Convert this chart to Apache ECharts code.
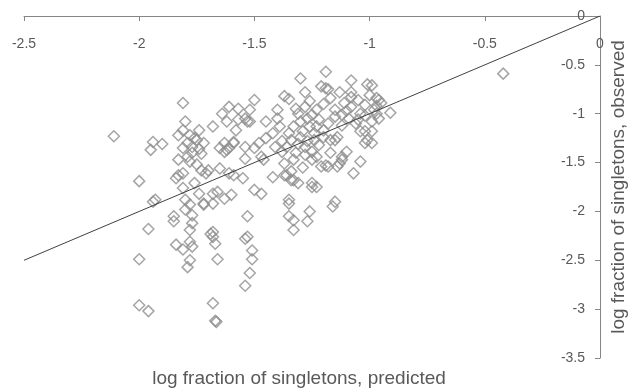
<!DOCTYPE html>
<html>
<head>
<meta charset="utf-8">
<script src="https://cdn.jsdelivr.net/npm/echarts@6/dist/echarts.min.js"></script>
<style>
  html, body { margin: 0; padding: 0; background: #fff; }
  #chart { width: 635px; height: 390px; }
</style>
</head>
<body>
<div id="chart"></div>
<script>
// predicted (x) and observed (y) log fraction of singletons
var predicted = [
  -1.81, -2.11, -1.94, -1.90, -1.95, -2.00, -1.93, -1.80, -1.83, -1.83,
  -1.81, -1.74, -1.75, -1.77, -1.73, -1.81, -1.78, -1.73, -1.84, -1.83,
  -1.81, -1.76, -1.81, -1.74, -1.80, -1.78, -1.72, -1.68, -1.63, -1.85,
  -1.77, -1.64, -1.61, -1.57, -1.52, -1.50, -1.68, -1.62, -1.57, -1.52,
  -1.58, -1.63, -1.65, -1.62, -1.63, -1.59, -1.54, -1.54, -1.65, -1.61,
  -1.55, -1.47, -1.45, -1.40, -1.37, -1.30, -1.19, -1.78, -1.76, -1.79,
  -1.74, -1.77, -1.72, -1.79, -1.75, -1.70, -1.60, -1.66, -1.59, -1.53,
  -1.54, -1.45, -1.59, -1.61, -1.50, -1.47, -1.42, -1.37, -1.34, -1.25,
  -1.23, -1.35, -1.15, -1.07, -1.04, -1.12, -1.14, -1.18, -1.01, -1.02,
  -1.15, -1.71, -1.94, -1.96, -1.85, -2.00, -2.00, -1.96, -1.80, -1.77,
  -1.78, -1.84, -1.81, -1.78, -1.78, -1.79, -1.77, -1.72, -1.68, -1.53,
  -1.35, -1.35, -1.33, -1.33, -1.26, -1.27, -1.16, -1.68, -1.68, -1.67,
  -1.66, -1.54, -1.53, -1.51, -1.51, -1.52, -1.54, -1.68, -1.67, -1.665,
  -1.69, -0.42, -0.99, -0.96, -0.97, -0.95, -0.91, -0.96, -0.99, -0.99,
  -0.98, -1.08, -1.01, -1.21, -1.19, -1.18, -1.13, -1.28, -1.35, -1.08,
  -1.00, -0.97, -1.05, -0.97, -1.17, -1.11, -1.08, -1.02, -1.04, -1.15,
  -1.12, -1.09, -1.05, -1.39, -1.48, -1.50, -1.46, -1.41, -1.38, -1.33,
  -1.31, -1.28, -1.25, -1.23, -1.30, -1.26, -1.23, -1.20, -1.14, -1.17,
  -1.20, -1.24, -1.30, -1.34, -1.36, -1.28, -1.25, -1.23, -1.25, -1.21,
  -1.19, -1.33, -1.37, -1.36, -1.33, -1.31, -1.34, -1.25, -1.13, -1.10,
  -1.12, -1.02, -1.04, -1.32, -1.27, -1.29, -1.22, -1.18, -1.31, -1.27,
  -1.22, -1.28, -1.32, -1.24, -1.35, -1.26, -1.20, -1.15, -1.10, -1.06,
  -1.12, -1.40, -1.42, -1.38, -1.29, -1.17, -1.02, -0.99, -1.08
];
var observed = [
  -0.89, -1.23, -1.29, -1.31, -1.37, -1.69, -1.88, -1.08, -1.22, -1.47,
  -1.17, -1.17, -1.27, -1.34, -1.41, -1.35, -1.49, -1.58, -1.66, -1.63,
  -1.61, -1.71, -1.76, -1.82, -1.88, -1.93, -1.92, -1.82, -1.87, -2.05,
  -2.04, -1.00, -0.93, -0.95, -0.96, -0.86, -1.13, -1.08, -1.06, -1.08,
  -1.17, -1.30, -1.35, -1.37, -1.39, -1.29, -1.34, -1.46, -1.56, -1.61,
  -1.66, -1.44, -1.08, -0.96, -0.82, -0.64, -0.57, -1.22, -1.25, -1.30,
  -1.36, -1.40, -1.30, -1.44, -1.52, -1.58, -1.83, -1.80, -1.63, -1.08,
  -1.05, -1.25, -1.30, -1.35, -1.78, -1.82, -1.65, -1.63, -1.68, -1.71,
  -1.75, -1.88, -1.90, -1.61, -1.49, -1.47, -1.54, -1.54, -1.27, -1.18,
  -1.27, -1.61, -1.90, -2.18, -2.10, -2.49, -2.96, -3.02, -1.98, -2.12,
  -2.19, -2.34, -2.39, -2.31, -2.50, -2.57, -2.36, -1.93, -1.92, -2.05,
  -1.92, -2.05, -2.09, -2.19, -2.00, -2.10, -1.95, -2.21, -2.26, -2.33,
  -2.49, -2.28, -2.26, -2.40, -2.49, -2.63, -2.76, -2.94, -3.12, -3.13,
  -2.23, -0.59, -0.71, -0.86, -0.84, -0.89, -0.99, -1.05, -1.18, -1.30,
  -0.96, -0.66, -0.70, -0.72, -0.74, -0.75, -0.78, -0.78, -0.85, -0.83,
  -0.81, -0.92, -0.86, -1.00, -0.84, -0.89, -0.93, -0.91, -1.00, -0.96,
  -1.01, -1.05, -1.06, -1.13, -1.30, -1.35, -1.47, -1.34, -1.39, -1.13,
  -1.00, -0.93, -1.01, -0.96, -1.08, -1.13, -1.13, -1.17, -1.24, -1.27,
  -1.24, -1.27, -1.24, -1.27, -1.34, -1.34, -1.39, -1.44, -1.47, -1.54,
  -1.53, -1.47, -1.51, -1.63, -1.68, -1.71, -1.59, -1.75, -1.51, -1.39,
  -1.44, -1.30, -1.18, -0.95, -1.05, -1.18, -1.06, -1.10, -1.31, -1.28,
  -1.32, -1.42, -1.40, -1.20, -1.20, -0.87, -0.90, -1.03, -0.97, -1.10,
  -1.12, -1.05, -1.20, -1.28, -1.55, -1.40, -1.02, -1.08, -0.78
];
var xTicks = [-2.5, 0];
var yTicks = [-3.5, 0];
var fitLine = [[-2.5, -2.5], [0, 0]];

var points = predicted.map(function (x, i) { return [x, observed[i]]; });

var chart = echarts.init(document.getElementById('chart'));

var axisColor = '#868686';
var textColor = '#595959';
var font = 'Liberation Sans';

var option = {
  animation: false,
  grid: { left: 24, right: 35, top: 16, bottom: 32, outerBoundsMode: 'none' },
  xAxis: {
    type: 'value',
    position: 'top',
    min: xTicks[0],
    max: xTicks[1],
    interval: 0.5,
    name: 'log fraction of singletons, predicted',
    nameLocation: 'middle',
    nameGap: -372,
    nameTextStyle: { color: textColor, fontSize: 19, fontFamily: font, padding: [0, 26, 0, 0] },
    axisLine: { onZero: false, lineStyle: { color: axisColor, width: 1 } },
    axisTick: { inside: true, length: 5, lineStyle: { color: axisColor } },
    axisLabel: { inside: true, margin: 21, color: textColor, fontSize: 14, fontFamily: font },
    splitLine: { show: false }
  },
  yAxis: {
    type: 'value',
    position: 'right',
    min: yTicks[0],
    max: yTicks[1],
    interval: 0.5,
    name: 'log fraction of singletons, observed',
    nameLocation: 'middle',
    nameGap: 9,
    nameRotate: 90,
    nameTextStyle: { color: textColor, fontSize: 19, fontFamily: font },
    axisLine: { onZero: false, lineStyle: { color: axisColor, width: 1 } },
    axisTick: { inside: true, length: 5, lineStyle: { color: axisColor } },
    axisLabel: { inside: true, margin: 15, color: textColor, fontSize: 14, fontFamily: font },
    splitLine: { show: false }
  },
  series: [
    {
      type: 'scatter',
      data: points,
      symbol: 'path://M5,0L10,5L5,10L0,5Z',
      symbolSize: 11,
      itemStyle: { color: 'rgba(255,255,255,0)', borderColor: '#8f8f8f', borderWidth: 1.5 }
    },
    {
      type: 'line',
      data: fitLine,
      symbol: 'none',
      lineStyle: { color: '#404040', width: 1 }
    }
  ]
};

chart.setOption(option);
</script>
</body>
</html>
